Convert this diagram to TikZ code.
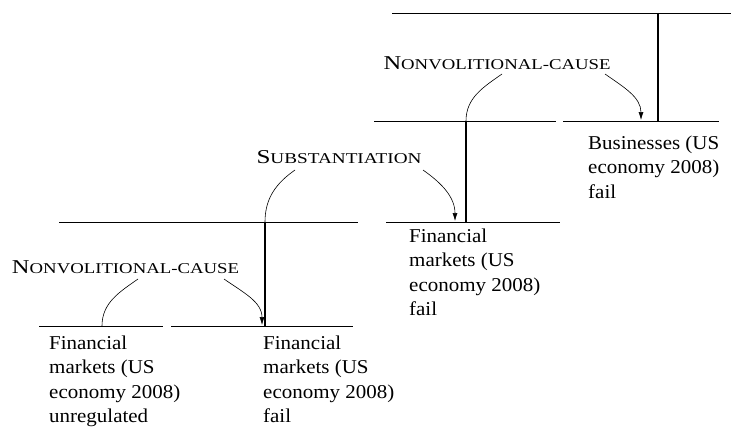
\documentclass[tikz,border=0pt]{standalone}
\usepackage{fontspec}
\usepackage{graphicx}
\setmainfont{Liberation Serif}[FakeStretch=1.07]
\usetikzlibrary{arrows.meta}
\newcommand\fakesc[3]{\resizebox{#3}{\height}{{\fontsize{19.6}{20}\selectfont #1}{\fontsize{15}{16}\selectfont #2}}}
\begin{document}
\begin{tikzpicture}[x=1pt,y=-1pt,
  span/.style={line width=0.8pt},
  nuc/.style={line width=1.2pt},
  rel/.style={line width=0.6pt},
  arr/.style={rel,-{Latex[length=8pt,width=5pt]}},
  txt/.style={anchor=north west,inner sep=0pt,align=left,font=\fontsize{19.6}{24.5}\selectfont},
  lab/.style={anchor=base,inner sep=0pt}]
\useasboundingbox (0,0) rectangle (731,428);
% level 1
\coordinate (t1) at (392,13); \coordinate (t2) at (731,13);
\coordinate (tv) at (658,13); \coordinate (tvb) at (658,121);
\draw[span] (t1) -- (t2);
\draw[nuc] (tv) -- (tvb);
% level 2
\coordinate (m1a) at (374,121); \coordinate (m1b) at (556,121);
\coordinate (m2a) at (563,121); \coordinate (m2b) at (719,121);
\draw[span] (m1a) -- (m1b);
\draw[span] (m2a) -- (m2b);
\node[lab] (r1) at (497,70) {\fakesc{N}{ONVOLITIONAL-CAUSE}{227pt}};
\coordinate (r1s) at (502,74); \coordinate (r1t) at (466,121);
\coordinate (r1a) at (605,74); \coordinate (r1b) at (641,120);
\draw[rel] (r1s) to[out=215,in=90] (r1t);
\draw[arr] (r1a) to[out=-35,in=90] (r1b);
\node[txt] (bus) at (588,135.5) {Businesses (US\\economy 2008)\\fail};
\coordinate (v2) at (466,121); \coordinate (v2b) at (466,222);
\draw[nuc] (v2) -- (v2b);
% level 3
\coordinate (l3a) at (59,222); \coordinate (l3b) at (358,222);
\coordinate (l3c) at (386,222); \coordinate (l3d) at (560,222);
\draw[span] (l3a) -- (l3b);
\draw[span] (l3c) -- (l3d);
\node[lab] (r2) at (339,163) {\fakesc{S}{UBSTANTIATION}{165pt}};
\coordinate (r2s) at (295,170); \coordinate (r2t) at (265,222);
\coordinate (r2a) at (423,170); \coordinate (r2b) at (455,221);
\draw[rel] (r2s) to[out=215,in=90] (r2t);
\draw[arr] (r2a) to[out=-35,in=90] (r2b);
\node[txt] (fm2) at (409,228.5) {Financial\\markets (US\\economy 2008)\\fail};
\coordinate (v3) at (265,222); \coordinate (v3b) at (265,326);
\draw[nuc] (v3) -- (v3b);
% level 4
\coordinate (l4a) at (39,326); \coordinate (l4b) at (163,326);
\coordinate (l4c) at (171,326); \coordinate (l4d) at (353,326);
\draw[span] (l4a) -- (l4b);
\draw[span] (l4c) -- (l4d);
\node[lab] (r3) at (125.5,273) {\fakesc{N}{ONVOLITIONAL-CAUSE}{227pt}};
\coordinate (r3s) at (138,279); \coordinate (r3t) at (102,326);
\coordinate (r3a) at (224,279); \coordinate (r3b) at (262,325);
\draw[rel] (r3s) to[out=215,in=90] (r3t);
\draw[arr] (r3a) to[out=-35,in=90] (r3b);
\node[txt] (fm0) at (49,335.5) {Financial\\markets (US\\economy 2008)\\unregulated};
\node[txt] (fm1) at (263,335.5) {Financial\\markets (US\\economy 2008)\\fail};
\end{tikzpicture}
\end{document}
